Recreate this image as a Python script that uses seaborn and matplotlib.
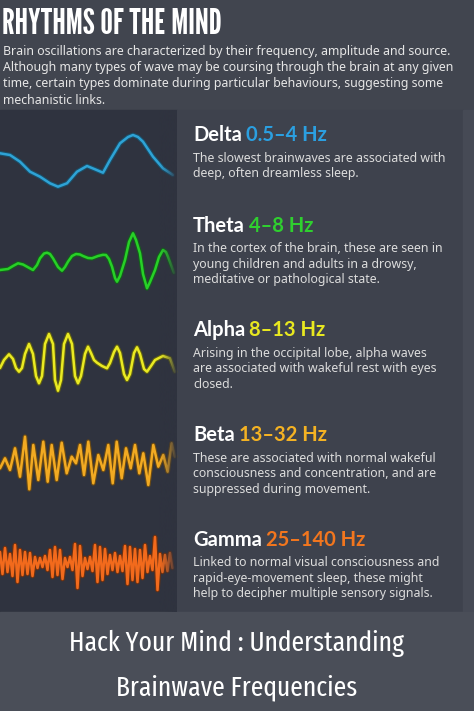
import numpy as np
import pandas as pd
import seaborn as sns
import matplotlib.pyplot as plt

# wave traces: horizontal position (px along panel) and amplitude (px, up = positive)
delta_t = [0, 10, 20, 30, 40, 50, 58, 67, 77, 87, 95, 103, 110, 120, 128, 133, 138, 143, 153, 163, 173]
delta_amp = [7.7, 6, -0.7, -10.7, -15.7, -22.3, -25.7, -22.3, -10.7, -5, -8.3, -11.7, 1, 17.7, 24, 26, 24,
             19.3, 4.3, -7.3, -14]

theta_t = [0, 8, 13, 18, 23, 27, 33, 37, 40, 44, 47, 50, 53, 58, 62, 65, 68, 72, 76, 80, 83, 88, 92, 98,
           103, 106, 109, 112, 115, 117, 120, 125, 129, 133, 136, 140, 143, 147, 150, 155, 159, 163, 166,
           168, 174]
theta_amp = [-8, -7, -4, -1.3, -2.5, -4.7, -8, -3, 3.7, 8.5, 9.3, 8, 3.7, -5, -8.7, -5, 0.3, 6, 8, 7.5, 6,
             4, 3.7, 6, 7.2, 7, 3, -4.7, -16, -19.7, -14, 2, 20, 28.7, 22, 8.7, -12, -26.3, -20, -8, 5,
             12, 10, 5.3, -10.7]

alpha_t = [0, 4, 9, 13, 16, 19, 22, 25, 29, 33, 36, 39, 42, 45, 49, 53, 55, 58, 61, 64, 68, 72, 75, 78,
           81, 85, 88, 91, 94, 97, 102, 107, 110, 114, 117, 120, 124, 127, 130, 134, 137, 140, 144, 147,
           151, 155, 163, 170, 175]
alpha_amp = [-6, 2, 7.7, 3, -6, -9.7, -6, 8, 18, 8, -14, -21.3, -14, 18, 28, 18, -18, -28.7, -18, 18, 28,
             18, -14, -21.3, -14, 8, 15.3, 9, 2, -0.7, -4, -6.3, -1, 10, 15.3, 9, -12, -18, -12, 9, 14.7,
             8, -7, -9.7, -4, 2, 6, 3.7, -9.7]

beta_t = [0, 5, 10, 15, 20, 25, 29.3, 33.3, 38.3, 43.3, 47.7, 51.7, 56.7, 61.7, 66.7, 71.7, 76, 80, 84,
          88.3, 93.3, 98.3, 103.3, 108.3, 112.7, 116.7, 121.7, 126, 130.7, 135, 139.3, 143.3, 148.3,
          153.3, 158.3, 163.3, 167.7, 171.7, 175]
beta_amp = [-8.3, 1.7, -10, 11.7, -16.7, 23.3, -29.3, 15, -20, 18.3, -21.7, 15, -20, 17.3, -13.3, 3.3,
            -3.3, 15, -15, 18.3, -23.3, 5, -10, 15, -23.3, 18.3, -18.3, 11.7, -8.3, 15, -13.3, 6.7, -25,
            15, -6.7, 5, -11.7, 16.7, 3.3]

gamma_t = [2.5 * i for i in range(70)]
gamma_amp = [10, -12, 14, -10, 8, -14, 17, -20, 12, -13, 10, -12, 9, -14, 5, -6, 4, -5, 6, -8,
             12, -15, 15, -13, 12, -17, 4, -5, 5, -8, 18, -26, 16, -14, 4, -7, 5, -9, 17, -20,
             15, -18, 13, -12, 7, -8, 9, -10, 6, -9, 16, -22, 15, -18, 13, -20, 12, -16, 17, -10,
             6, -8, 25, -28, 8, -10, 7, -9, 9, -6]

wave_names = ["Delta", "Theta", "Alpha", "Beta", "Gamma"]
wave_bands = ["0.5\u20134 Hz", "4\u20138 Hz", "8\u201313 Hz", "13\u201332 Hz", "25\u2013140 Hz"]
wave_text = [
    ["The slowest brainwaves are associated with", "deep, often dreamless sleep."],
    ["In the cortex of the brain, these are seen in", "young children and adults in a drowsy,",
     "meditative or pathological state."],
    ["Arising in the occipital lobe, alpha waves", "are associated with wakeful rest with eyes",
     "closed."],
    ["These are associated with normal wakeful", "consciousness and concentration, and are",
     "suppressed during movement."],
    ["Linked to normal visual consciousness and", "rapid-eye-movement sleep, these might",
     "help to decipher multiple sensory signals."],
]

title = "RHYTHMS OF THE MIND"
intro = [
    "Brain oscillations are characterized by their frequency, amplitude and source.",
    "Although many types of wave may be coursing through the brain at any given",
    "time, certain types dominate during particular behaviours, suggesting some",
    "mechanistic links.",
]
footer = ["Hack Your Mind : Understanding", "Brainwave Frequencies"]

# layout / style
colors = ["#2ea3d6", "#27d127", "#eaea22", "#f2aa22", "#f26a1c"]
band_colors = ["#2b9fe0", "#2fcf2f", "#e8e820", "#f4b223", "#f2761e"]
dark_edges = ["#1b4f68", "#155e1d", "#5e5e14", "#6a4a14", "#6a3012"]
baselines = [161, 262, 362, 460, 562]
head_y = [135, 226, 330, 435, 540]
body_y0 = [158, 249, 353, 458, 563]
line_h = 15.5

waves = [(delta_t, delta_amp), (theta_t, theta_amp), (alpha_t, alpha_amp),
         (beta_t, beta_amp), (gamma_t, gamma_amp)]

sns.set_theme(style="white")
plt.rcParams["font.family"] = ["Noto Sans", "DejaVu Sans"]

W, H = 474, 711
fig = plt.figure(figsize=(W / 100, H / 100), dpi=100)
fig.patch.set_facecolor("#41454f")
ax = fig.add_axes([0, 0, 1, 1])
ax.set_xlim(0, W)
ax.set_ylim(H, 0)
ax.axis("off")

# background panels
ax.add_patch(plt.Rectangle((0, 110), 177, 502, color="#2f333f", zorder=0))
ax.add_patch(plt.Rectangle((177, 110), 286, 502, color="#3e424d", zorder=0))
ax.add_patch(plt.Rectangle((463, 110), 11, 502, color="#464a55", zorder=0))
ax.add_patch(plt.Rectangle((0, 612), W, 99, color="#4a4e58", zorder=0))

# waves
for (t, amp), base, c, dc in zip(waves, baselines, colors, dark_edges):
    df = pd.DataFrame({"t": t, "y": [base - a for a in amp]})
    sns.lineplot(data=df, x="t", y="y", ax=ax, sort=False, estimator=None, color=dc,
                 linewidth=3.4, solid_joinstyle="round", solid_capstyle="round", zorder=2)
    sns.lineplot(data=df, x="t", y="y", ax=ax, sort=False, estimator=None, color=c,
                 linewidth=1.8, solid_joinstyle="round", solid_capstyle="round", zorder=3)

# fade out the right end of the waves
fade = np.linspace(0, 1, 64)[None, :]
fade_rgba = np.zeros((1, 64, 4))
fade_rgba[..., :3] = np.array([0x2f, 0x33, 0x3f]) / 255
fade_rgba[..., 3] = fade ** 1.5
ax.imshow(fade_rgba, extent=(158, 177, 612, 110), aspect="auto", zorder=4)
ax.set_xlim(0, W)
ax.set_ylim(H, 0)

# header text
ax.text(2, 24, title, color="white", fontsize=25.5,
        family=["League Gothic", "DejaVu Sans"], va="center", ha="left")
for i, line in enumerate(intro):
    ax.text(3, 52 + i * 16, line, color="#e6e6e6", fontsize=8.9, va="center", ha="left")

fig.canvas.draw()
rend = fig.canvas.get_renderer()

head_font = ["Lato", "DejaVu Sans"]
for k in range(5):
    name = ax.text(193, head_y[k], wave_names[k], color="white", fontsize=14.5, fontweight="bold",
                   family=head_font, va="center", ha="left")
    bb = name.get_window_extent(renderer=rend)
    x_end = ax.transData.inverted().transform((bb.x1, bb.y0))[0]
    ax.text(x_end + 4, head_y[k], wave_bands[k], color=band_colors[k], fontsize=14.5,
            fontweight="bold", family=head_font, va="center", ha="left")
    for j, line in enumerate(wave_text[k]):
        ax.text(193, body_y0[k] + j * line_h, line, color="#dcdcdc", fontsize=8.9,
                va="center", ha="left")

for i, line in enumerate(footer):
    ax.text(W / 2, 643 + i * 45, line, color="white", fontsize=20,
            family=["Fira Sans Extra Condensed", "DejaVu Sans"], va="center", ha="center")

fig.savefig("out.png", dpi=100, facecolor=fig.get_facecolor())
